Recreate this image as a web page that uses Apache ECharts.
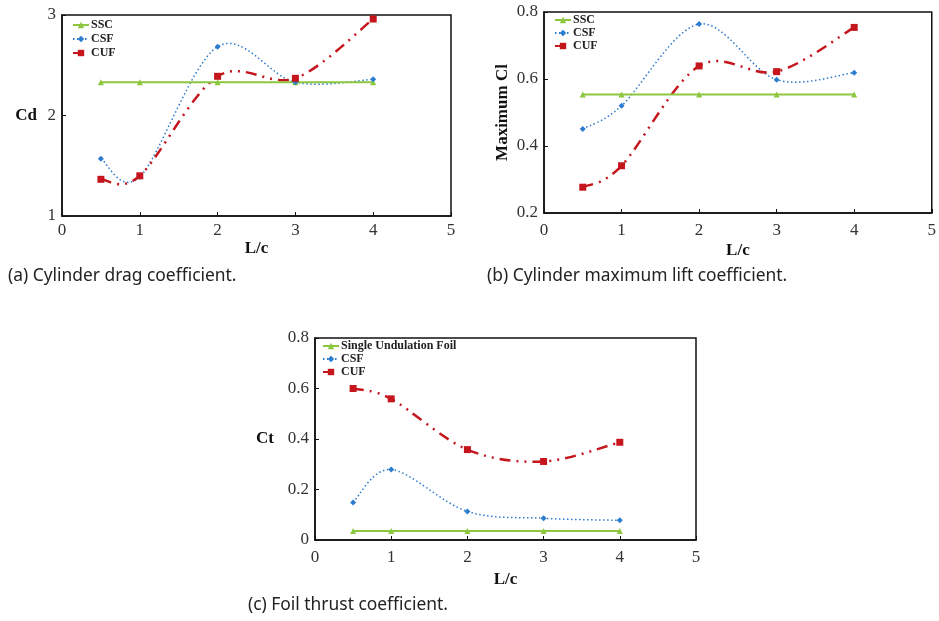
<!DOCTYPE html>
<html>
<head>
<meta charset="utf-8">
<script src="https://cdn.jsdelivr.net/npm/echarts@6/dist/echarts.min.js"></script>
<style>
  html, body { margin: 0; padding: 0; background: #fff; }
  #chart { width: 939px; height: 621px; }
</style>
</head>
<body>
<div id="chart"></div>
<script>
// Spacing ratio L/c shared by all three panels
const lc = [0.5, 1, 2, 3, 4];

// (a) Cylinder drag coefficient
const cdSSC = [2.33, 2.33, 2.33, 2.33, 2.33];
const cdCSF = [1.57, 1.39, 2.685, 2.33, 2.36];
const cdCUF = [1.365, 1.40, 2.39, 2.37, 2.96];

// (b) Cylinder maximum lift coefficient
const clSSC = [0.554, 0.554, 0.554, 0.554, 0.554];
const clCSF = [0.451, 0.52, 0.764, 0.598, 0.619];
const clCUF = [0.277, 0.341, 0.639, 0.622, 0.754];

// (c) Foil thrust coefficient
const ctSingle = [0.036, 0.036, 0.036, 0.036, 0.036];
const ctCSF = [0.149, 0.279, 0.113, 0.086, 0.078];
const ctCUF = [0.600, 0.559, 0.358, 0.311, 0.387];

const captions = [
  '(a) Cylinder drag coefficient.',
  '(b) Cylinder maximum lift coefficient.',
  '(c) Foil thrust coefficient.'
];

const GREEN = '#8dc63f', BLUE = '#2b7bcf', RED = '#c4161c';
const SERIF = '"Liberation Serif", "Times New Roman", serif';
const SANS = '"Noto Sans", "Open Sans", sans-serif';
const BLUE_DASH = [1.5, 2.5];
const RED_DASH = [11, 6, 2, 6, 2, 6];

function pairs(ys) { return lc.map((x, i) => [x, ys[i]]); }

// Cardinal (Catmull-Rom) spline through the data points, placed by the axes
function spline(ys, idx, color, width, dash) {
  return {
    type: 'custom', xAxisIndex: idx, yAxisIndex: idx, z: 1, silent: true,
    data: pairs(ys),
    renderItem: (params, api) => {
      if (params.dataIndex !== 0) return null;
      const p = lc.map((x, i) => api.coord([x, ys[i]]));
      const n = p.length;
      let d = 'M' + p[0][0] + ' ' + p[0][1];
      for (let i = 0; i < n - 1; i++) {
        const p0 = p[i - 1] || p[i], p1 = p[i], p2 = p[i + 1], p3 = p[i + 2] || p[i + 1];
        const c1x = p1[0] + (p2[0] - p0[0]) / 6, c1y = p1[1] + (p2[1] - p0[1]) / 6;
        const c2x = p2[0] - (p3[0] - p1[0]) / 6, c2y = p2[1] - (p3[1] - p1[1]) / 6;
        d += ' C' + c1x + ' ' + c1y + ' ' + c2x + ' ' + c2y + ' ' + p2[0] + ' ' + p2[1];
      }
      return {
        type: 'path',
        shape: { pathData: d },
        style: { fill: 'none', stroke: color, lineWidth: width, lineDash: dash, lineCap: 'butt' }
      };
    }
  };
}

function ssc(name, ys, idx) {
  return {
    name, type: 'line', xAxisIndex: idx, yAxisIndex: idx, z: 2,
    data: pairs(ys), symbol: 'triangle', symbolSize: 6,
    itemStyle: { color: GREEN },
    lineStyle: { color: GREEN, width: 2, type: 'solid' }
  };
}
// Marker-only line series; the curve itself is drawn by spline()
function csf(ys, idx) {
  return {
    name: 'CSF', type: 'line', xAxisIndex: idx, yAxisIndex: idx, z: 3,
    data: pairs(ys), symbol: 'diamond', symbolSize: 6,
    itemStyle: { color: BLUE },
    lineStyle: { color: BLUE, width: 1.5, type: BLUE_DASH, opacity: 0 }
  };
}
function cuf(ys, idx) {
  return {
    name: 'CUF', type: 'line', xAxisIndex: idx, yAxisIndex: idx, z: 3,
    data: pairs(ys), symbol: 'rect', symbolSize: 7,
    itemStyle: { color: RED },
    lineStyle: { color: RED, width: 2.5, type: RED_DASH, opacity: 0 }
  };
}

const grids = [
  { left: 62, top: 15, width: 389, height: 201 },
  { left: 544, top: 12, width: 391, height: 201 },
  { left: 315, top: 338, width: 381, height: 202 }
].map(g => Object.assign(g, { show: true, borderColor: '#111', borderWidth: 1.5, backgroundColor: 'transparent' }));

function xAxis(idx, margin, gap) {
  return {
    type: 'value', gridIndex: idx, min: 0, max: 5, interval: 1,
    name: 'L/c', nameLocation: 'middle', nameGap: gap,
    nameTextStyle: { fontFamily: SERIF, fontWeight: 'bold', fontSize: 17, color: '#111' },
    axisLine: { show: true, lineStyle: { color: '#111', width: 1.5 } },
    axisTick: { show: true, inside: true, length: 4, lineStyle: { color: '#111' } },
    axisLabel: { fontFamily: SERIF, fontSize: 17, color: '#333', margin },
    splitLine: { show: false }
  };
}
function yAxis(idx, min, max, interval, name, rotate, gap) {
  return {
    type: 'value', gridIndex: idx, min, max, interval,
    name, nameLocation: 'middle', nameRotate: rotate, nameGap: gap,
    nameTextStyle: { fontFamily: SERIF, fontWeight: 'bold', fontSize: 17, color: '#111' },
    axisLine: { show: true, lineStyle: { color: '#111', width: 1.5 } },
    axisTick: { show: true, inside: true, length: 4, lineStyle: { color: '#111' } },
    axisLabel: { fontFamily: SERIF, fontSize: 17, color: '#333', margin: 6 },
    splitLine: { show: false }
  };
}

function legend(names, left, top, gap) {
  return {
    data: names, orient: 'vertical', left, top,
    itemWidth: 16, itemHeight: 8, itemGap: gap,
    padding: 0, selectedMode: false,
    lineStyle: { opacity: 1 },
    textStyle: { fontFamily: SERIF, fontWeight: 'bold', fontSize: 12, color: '#222', padding: [0, 0, 0, -3] }
  };
}

const option = {
  animation: false,
  backgroundColor: '#fff',
  title: [
    { text: captions[0], left: 8, top: 268 },
    { text: captions[1], left: 487, top: 268 },
    { text: captions[2], left: 248, top: 597 }
  ].map(t => Object.assign(t, { padding: 0, textStyle: { fontFamily: SANS, fontWeight: 'normal', fontSize: 17.4, color: '#222' } })),
  grid: grids,
  xAxis: [xAxis(0, 6, 24), xAxis(1, 9, 29), xAxis(2, 9, 31)],
  yAxis: [
    yAxis(0, 1, 3, 1, 'Cd', 0, 25),
    yAxis(1, 0.2, 0.8, 0.2, 'Maximum Cl', 90, 33),
    yAxis(2, 0, 0.8, 0.2, 'Ct', 0, 41)
  ],
  legend: [
    legend(['SSC', 'CSF', 'CUF'], 72, 19, 2),
    legend(['SSC', 'CSF', 'CUF'], 554, 14, 1),
    legend(['Single Undulation Foil', 'CSF', 'CUF'], 322, 340, 1)
  ],
  series: [
    spline(cdCSF, 0, BLUE, 1.5, BLUE_DASH), spline(cdCUF, 0, RED, 2.5, RED_DASH),
    spline(clCSF, 1, BLUE, 1.5, BLUE_DASH), spline(clCUF, 1, RED, 2.5, RED_DASH),
    spline(ctCSF, 2, BLUE, 1.5, BLUE_DASH), spline(ctCUF, 2, RED, 2.5, RED_DASH),
    ssc('SSC', cdSSC, 0), csf(cdCSF, 0), cuf(cdCUF, 0),
    ssc('SSC', clSSC, 1), csf(clCSF, 1), cuf(clCUF, 1),
    ssc('Single Undulation Foil', ctSingle, 2), csf(ctCSF, 2), cuf(ctCUF, 2)
  ]
};

const chart = echarts.init(document.getElementById('chart'), null, { renderer: 'canvas' });
chart.setOption(option);
</script>
</body>
</html>
